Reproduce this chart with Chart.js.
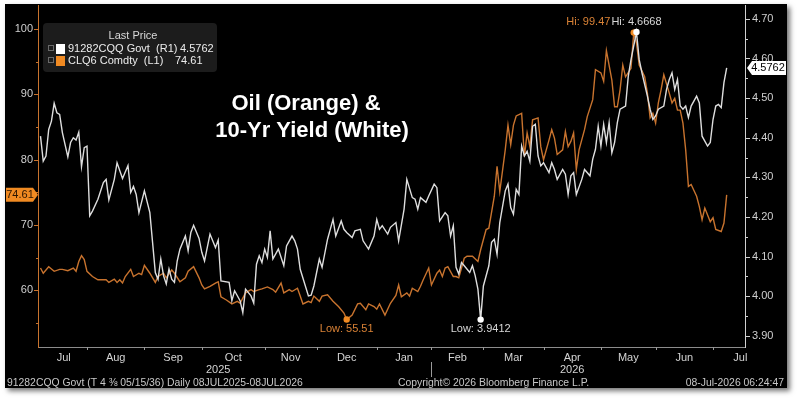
<!DOCTYPE html>
<html>
<head>
<meta charset="utf-8">
<script src="https://cdn.jsdelivr.net/npm/chart.js@4.4.1/dist/chart.umd.min.js"></script>
<style>
html,body{margin:0;padding:0;background:#fff;width:800px;height:403px;overflow:hidden}
#panel{position:absolute;left:5px;top:4px;width:782px;height:384px;background:#000;box-shadow:3px 3px 5px rgba(0,0,0,.55)}
#wrap{position:absolute;left:0;top:0;width:800px;height:403px}
</style>
</head>
<body>
<div id="panel"></div>
<div id="wrap"><canvas id="chart" width="800" height="403"></canvas></div>
<script>
// trading-day index since 08JUL2025 (0) to 08JUL2026 (251)

// 10-yr yield (right axis)
const ylDays = [0,1,2,3,4,5,6,7,8,10,11,12,13,14,15,16,17,18,19,21,23,24,25,27,28,30,32,33,34,35,36,38,40,42,43,44,45,46,47,48,49,50,51,53,54,55,56,58,59,60,62,64,65,66,69,70,71,73,74,75,77,78,79,80,81,82,83,84,85,87,89,90,92,93,94,95,98,99,100,102,103,105,107,108,110,111,112,114,115,117,118,120,122,123,124,125,127,128,130,131,133,134,136,137,138,139,141,142,144,145,146,148,149,150,151,152,153,154,155,157,158,159,160,161,162,164,165,166,167,168,170,171,172,173,174,175,176,177,178,179,180,181,182,183,184,186,187,188,189,191,192,193,194,195,196,198,199,201,202,203,204,205,206,207,208,209,210,211,212,214,215,216,218,219,220,222,223,224,225,226,228,229,230,231,232,233,234,235,236,237,238,240,241,242,244,245,246,247,248,249,250,251];
const ylValues = [4.404,4.341,4.354,4.421,4.442,4.487,4.463,4.459,4.413,4.352,4.388,4.400,4.394,4.414,4.327,4.375,4.379,4.203,4.215,4.245,4.287,4.295,4.243,4.295,4.337,4.297,4.330,4.262,4.277,4.257,4.211,4.266,4.211,4.060,4.043,4.094,4.052,4.031,4.069,4.043,4.035,4.089,4.119,4.152,4.115,4.161,4.179,4.146,4.111,4.089,4.157,4.123,4.142,4.039,4.035,3.989,4.014,3.989,3.959,4.018,4.001,3.983,4.081,4.102,4.085,4.119,4.098,4.165,4.094,4.119,4.077,4.127,4.152,4.140,4.119,4.068,4.001,4.003,4.026,4.094,4.073,4.144,4.194,4.152,4.190,4.169,4.161,4.148,4.165,4.169,4.140,4.119,4.152,4.194,4.169,4.178,4.157,4.174,4.186,4.140,4.220,4.295,4.249,4.245,4.220,4.249,4.237,4.253,4.283,4.274,4.190,4.211,4.203,4.152,4.178,4.073,4.056,4.085,4.077,4.060,4.077,4.052,4.018,3.9412,4.026,4.077,4.136,4.144,4.106,4.186,4.266,4.283,4.224,4.207,4.270,4.257,4.379,4.354,4.366,4.341,4.429,4.434,4.354,4.329,4.337,4.312,4.337,4.320,4.295,4.320,4.308,4.257,4.304,4.312,4.257,4.295,4.320,4.304,4.346,4.371,4.429,4.379,4.434,4.388,4.438,4.362,4.388,4.438,4.472,4.480,4.555,4.597,4.6668,4.597,4.564,4.505,4.472,4.446,4.455,4.472,4.480,4.522,4.547,4.564,4.522,4.547,4.480,4.472,4.480,4.451,4.480,4.505,4.488,4.404,4.379,4.388,4.446,4.480,4.484,4.476,4.539,4.5762];

// oil CLQ6 (left axis)
const oilDays = [0,1,3,5,7,8,10,12,13,14,15,16,17,19,21,22,24,25,27,28,29,30,31,33,34,36,37,38,40,42,43,45,46,48,49,51,53,54,56,58,59,60,62,64,65,66,68,70,72,73,75,77,78,80,81,83,85,86,88,89,91,92,94,95,96,98,99,100,102,103,105,107,109,111,112,114,116,117,119,120,122,123,124,126,128,130,131,132,134,135,136,138,139,140,142,143,145,146,147,148,149,151,152,153,155,156,158,160,161,163,164,166,167,168,170,171,172,173,174,176,177,178,179,180,182,183,184,186,187,188,189,191,192,193,194,195,196,197,199,200,202,203,205,206,207,209,210,211,212,213,214,216,217,218,219,221,222,223,224,225,226,227,228,230,231,232,233,234,235,236,237,238,240,241,242,243,245,246,247,249,250,251];
const oilValues = [63.4,62.6,63.6,62.9,63.2,63.2,63.0,63.4,62.9,64.4,65.3,64.7,62.9,62.1,61.6,61.6,61.6,61.2,61.7,61.2,61.6,61.1,62.1,63.2,62.1,62.6,62.4,63.8,62.6,61.2,62.1,62.6,61.9,63.1,62.6,61.3,61.9,62.9,63.6,61.9,60.8,60.2,60.6,61.1,61.3,59.0,58.5,57.9,58.3,58.0,59.6,60.1,59.8,60.1,60.2,60.5,60.1,59.7,61.1,59.6,60.1,59.8,60.3,59.1,57.9,58.3,58.1,59.1,58.3,59.1,59.3,58.3,57.5,56.5,55.51,56.2,57.9,58.0,57.0,57.9,57.5,57.1,57.9,56.2,58.0,59.2,60.8,59.0,59.6,59.1,60.3,59.8,60.6,61.6,63.4,60.8,62.6,63.1,62.1,63.4,63.6,62.1,62.1,61.9,64.9,65.2,65.2,64.4,66.2,69.3,69.5,74.4,79.0,75.1,81.5,85.3,82.3,85.3,86.7,87.1,80.5,84.1,82.0,86.1,86.4,82.0,80.0,83.0,84.6,83.3,80.8,81.5,84.3,82.0,82.8,84.1,78.5,81.5,84.6,86.6,89.2,93.8,93.3,92.0,96.7,92.2,88.1,88.1,90.7,94.5,92.7,94.0,99.47,97.9,94.5,92.7,90.2,86.4,87.1,85.6,88.7,90.7,93.0,90.2,88.7,89.4,87.6,87.6,85.6,81.5,75.9,76.2,74.4,72.8,70.8,72.6,70.5,71.1,69.3,69.0,70.3,74.61];

// x axis: month boundaries (trading-day index), names, years
const monthStarts = [17,38,59,82,101,123,143,162,184,205,225,246];
const monthNames = ['Jul','Aug','Sep','Oct','Nov','Dec','Jan','Feb','Mar','Apr','May','Jun','Jul'];
const yearNames = ['2025','2026'];
const yearAt = [65,194.5];

const FONT = 'Liberation Sans, Arial, sans-serif';
const ORANGE = '#c8732e';
const ORANGE_HI = '#f08a22';
const WHITE = '#dedede';

function seg(ctx,x1,y1,x2,y2){ctx.beginPath();ctx.moveTo(x1,y1);ctx.lineTo(x2,y2);ctx.stroke();}

const decor = {
  id:'decor',
  afterDraw(chart){
    const ctx = chart.ctx, a = chart.chartArea;
    const sx = chart.scales.x, sl = chart.scales.yL, sr = chart.scales.yR;
    ctx.save();
    ctx.lineWidth = 1;

    // axis lines
    ctx.strokeStyle = '#8c8c8c';
    seg(ctx, a.left, a.bottom+0.5, a.right, a.bottom+0.5);
    ctx.strokeStyle = ORANGE;
    seg(ctx, a.left-0.5, a.top, a.left-0.5, a.bottom+1);
    ctx.strokeStyle = '#d0d0d0';
    seg(ctx, a.right+0.5, a.top, a.right+0.5, a.bottom+1);

    // y tick marks
    ctx.strokeStyle = ORANGE;
    sl.ticks.forEach(t => {
      const y = Math.round(sl.getPixelForValue(t.value))+0.5;
      seg(ctx, a.left - (t.value % 10 === 0 ? 5 : 3), y, a.left, y);
    });
    ctx.strokeStyle = '#d0d0d0';
    sr.ticks.forEach(t => {
      const y = Math.round(sr.getPixelForValue(t.value))+0.5;
      seg(ctx, a.right, y, a.right + (Math.round(t.value*100) % 10 === 0 ? 5 : 3), y);
    });

    // x ticks + month labels
    ctx.strokeStyle = '#9a9a9a';
    monthStarts.forEach(d => {
      const x = Math.round(sx.getPixelForValue(d))+0.5;
      seg(ctx, x, a.bottom, x, a.bottom+3);
    });
    ctx.fillStyle = '#d4d4d4';
    ctx.font = '11px ' + FONT;
    ctx.textAlign = 'center';
    ctx.textBaseline = 'middle';
    const bounds = [0, ...monthStarts, 266];
    monthNames.forEach((m,i) => {
      ctx.fillText(m, sx.getPixelForValue((bounds[i]+bounds[i+1])/2), 358);
    });
    yearNames.forEach((y,i) => ctx.fillText(y, sx.getPixelForValue(yearAt[i]), 370));
    const sepX = Math.round(sx.getPixelForValue(monthStarts[6]))+0.5;
    ctx.strokeStyle = '#9a9a9a';
    seg(ctx, sepX, 362, sepX, 377);

    // footer
    ctx.fillStyle = '#c8c8c8';
    ctx.font = '10.4px ' + FONT;
    ctx.textAlign = 'left';
    ctx.fillText('91282CQQ Govt (T 4 \u215C 05/15/36) Daily 08JUL2025-08JUL2026', 7, 383);
    ctx.fillText('Copyright\u00A9 2026 Bloomberg Finance L.P.', 398, 383);
    ctx.textAlign = 'right';
    ctx.fillText('08-Jul-2026 06:24:47', 784, 383);

    // title
    ctx.fillStyle = '#ffffff';
    ctx.textAlign = 'center';
    ctx.font = 'bold 22px ' + FONT;
    ctx.fillText('Oil (Orange) &', 306, 104);
    ctx.fillText('10-Yr Yield (White)', 312, 131);

    // legend
    ctx.fillStyle = '#1c1c1c';
    ctx.beginPath(); ctx.roundRect(43, 23, 174, 49, 4); ctx.fill();
    ctx.font = '11px ' + FONT;
    ctx.fillStyle = '#d8d8d8';
    ctx.fillText('Last Price', 133, 36);
    const rows = [
      {name:'91282CQQ Govt  (R1)', val: ylValues[ylValues.length-1].toFixed(4), color:'#ffffff', vx:180, y:49},
      {name:'CLQ6 Comdty  (L1)', val: oilValues[oilValues.length-1].toFixed(2), color:ORANGE_HI, vx:175, y:61}
    ];
    rows.forEach(r => {
      ctx.strokeStyle = '#6a6a6a';
      ctx.strokeRect(48.5, r.y-3.5, 5, 5);
      ctx.fillStyle = r.color;
      ctx.fillRect(56, r.y-5, 9, 10);
      ctx.fillStyle = '#ececec';
      ctx.textAlign = 'left';
      ctx.fillText(r.name, 68, r.y);
      ctx.fillText(r.val, r.vx, r.y);
    });

    // last value badges
    const ly = sl.getPixelForValue(oilValues[oilValues.length-1]);
    ctx.fillStyle = ORANGE_HI;
    ctx.beginPath();
    ctx.moveTo(6, ly-7); ctx.lineTo(33, ly-7); ctx.lineTo(38, ly); ctx.lineTo(33, ly+7); ctx.lineTo(6, ly+7);
    ctx.closePath(); ctx.fill();
    ctx.fillStyle = '#2a1400';
    ctx.textAlign = 'center';
    ctx.fillText(oilValues[oilValues.length-1].toFixed(2), 20, ly+0.5);

    const ry = sr.getPixelForValue(ylValues[ylValues.length-1]);
    ctx.fillStyle = '#ffffff';
    ctx.beginPath();
    ctx.moveTo(747, ry); ctx.lineTo(752, ry-7); ctx.lineTo(786, ry-7); ctx.lineTo(786, ry+7); ctx.lineTo(752, ry+7);
    ctx.closePath(); ctx.fill();
    ctx.fillStyle = '#000000';
    ctx.fillText(ylValues[ylValues.length-1].toFixed(4), 768, ry+0.5);

    // hi / low markers
    const ptsOf = (days, vals, sc, pick) => {
      const v = pick(...vals), i = vals.indexOf(v);
      return {v, x: sx.getPixelForValue(days[i]), y: sc.getPixelForValue(v)};
    };
    const yHi = ptsOf(ylDays, ylValues, sr, Math.max);
    const yLo = ptsOf(ylDays, ylValues, sr, Math.min);
    const oHi = ptsOf(oilDays, oilValues, sl, Math.max);
    const oLo = ptsOf(oilDays, oilValues, sl, Math.min);
    const dot = (p, c) => { ctx.fillStyle = c; ctx.beginPath(); ctx.arc(p.x, p.y, 3.2, 0, Math.PI*2); ctx.fill(); };
    dot(oHi, ORANGE_HI); dot(yHi, '#ffffff'); dot(oLo, ORANGE_HI); dot(yLo, '#ffffff');

    ctx.font = '11px ' + FONT;
    const wt = 'Hi: ' + yHi.v.toFixed(4);
    const ww = ctx.measureText(wt).width;
    ctx.textAlign = 'center';
    ctx.fillStyle = '#d8d8d8';
    ctx.fillText(wt, yHi.x, yHi.y - 10);
    ctx.textAlign = 'right';
    ctx.fillStyle = '#d98236';
    ctx.fillText('Hi: ' + oHi.v.toFixed(2), yHi.x - ww/2 - 1, yHi.y - 10);
    ctx.textAlign = 'center';
    ctx.fillText('Low: ' + oLo.v.toFixed(2), oLo.x, oLo.y + 9);
    ctx.fillStyle = '#d8d8d8';
    ctx.fillText('Low: ' + yLo.v.toFixed(4), yLo.x, yLo.y + 9);

    ctx.restore();
  }
};

const chart = new Chart(document.getElementById('chart').getContext('2d'), {
  type:'line',
  data:{
    datasets:[
      {
        label:'91282CQQ Govt',
        data: ylDays.map((d,i) => ({x:d, y:ylValues[i]})),
        yAxisID:'yR',
        borderColor:WHITE,
        borderWidth:1.4,
        pointRadius:0,
        tension:0
      },
      {
        label:'CLQ6 Comdty',
        data: oilDays.map((d,i) => ({x:d, y:oilValues[i]})),
        yAxisID:'yL',
        borderColor:ORANGE,
        borderWidth:1.4,
        pointRadius:0,
        tension:0
      }
    ]
  },
  options:{
    responsive:false,
    animation:false,
    devicePixelRatio:1,
    layout:{padding:{left:5, right:13, top:5, bottom:0}},
    plugins:{legend:{display:false}, tooltip:{enabled:false}},
    scales:{
      x:{
        type:'linear', min:-0.55, max:257.7,
        grid:{display:false, drawTicks:false}, border:{display:false},
        ticks:{display:false},
        afterFit(s){ s.height = 56; s.paddingLeft = 0; s.paddingRight = 0; }
      },
      yL:{
        position:'left', min:51.3, max:103.7,
        grid:{display:false, drawTicks:false}, border:{display:false},
        ticks:{stepSize:5, includeBounds:false, autoSkip:false, padding:6, color:'#cfcfcf',
          font:{family:FONT, size:11},
          callback: v => v % 10 === 0 ? String(v) : ''},
        afterFit(s){ s.width = 34; s.paddingTop = 0; s.paddingBottom = 0; }
      },
      yR:{
        position:'right', min:3.872, max:4.735,
        grid:{display:false, drawTicks:false}, border:{display:false},
        ticks:{stepSize:0.05, includeBounds:false, autoSkip:false, padding:7, color:'#cfcfcf',
          font:{family:FONT, size:11},
          callback: v => Math.round(v*100) % 10 === 0 ? v.toFixed(2) : ''},
        afterFit(s){ s.width = 42; s.paddingTop = 0; s.paddingBottom = 0; }
      }
    }
  },
  plugins:[decor]
});
</script>
</body>
</html>
